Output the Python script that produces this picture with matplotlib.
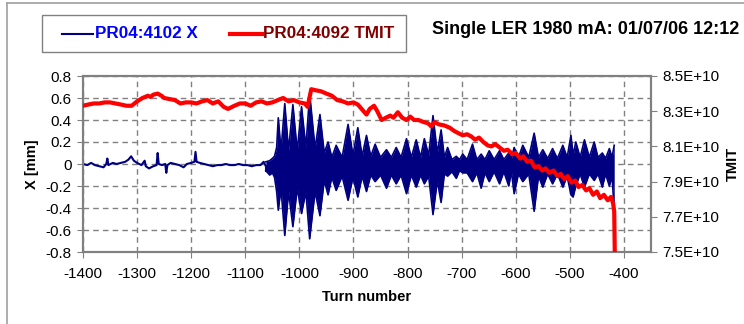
#Beam position and TMIT versus turn number, Excel style chart
import numpy as np
import matplotlib
matplotlib.use("Agg")
import matplotlib.pyplot as plt
from matplotlib.patches import Rectangle
from matplotlib.lines import Line2D
from matplotlib.ticker import MultipleLocator, FuncFormatter

plt.rcParams['font.family'] = ['Liberation Sans', 'DejaVu Sans']
plt.rcParams['axes.unicode_minus'] = False

#Quiet part of the X trace before the kick (turn, mm)
quiet_turn = [-1400, -1392, -1385, -1378, -1370, -1362, -1357, -1355, -1353, -1345,
              -1338, -1330, -1322, -1316, -1311, -1306, -1300, -1292, -1286, -1284,
              -1278, -1270, -1264, -1262, -1260, -1254, -1248, -1246, -1244, -1238,
              -1230, -1222, -1214, -1208, -1200, -1194, -1192, -1190, -1184, -1176,
              -1168, -1160, -1152, -1144, -1136, -1128, -1120, -1112, -1104, -1096,
              -1088, -1080, -1072, -1066, -1062]
quiet_x = [0.00, -0.01, 0.01, -0.01, -0.02, -0.03, 0.00, 0.05, -0.01, 0.01,
           0.00, 0.01, 0.02, 0.04, 0.07, 0.03, 0.01, -0.01, 0.03, -0.02,
           -0.04, -0.02, -0.01, 0.10, 0.00, -0.01, 0.00, -0.08, -0.01, 0.01,
           0.00, -0.01, -0.03, 0.00, 0.01, 0.02, 0.11, 0.02, 0.01, 0.00,
           -0.01, -0.02, -0.01, -0.01, 0.00, -0.01, -0.01, 0.00, -0.01, -0.01,
           -0.02, -0.01, -0.01, 0.02, -0.02]

#Oscillating part: upper and lower envelope of the X trace (turn, mm)
osc_turn = [-1062, -1055, -1050, -1046, -1042, -1039, -1034, -1027, -1020, -1012,
            -1004, -996, -988, -981, -971, -962, -954, -947, -940, -932,
            -921, -910, -901, -892, -884, -876, -868, -860, -850, -839,
            -830, -821, -812, -802, -793, -784, -776, -769, -761, -753,
            -745, -738, -732, -726, -718, -710, -704, -698, -690, -680,
            -672, -664, -657, -649, -640, -630, -622, -613, -608, -603,
            -595, -587, -576, -566, -558, -550, -541, -532, -523, -513,
            -505, -498, -494, -489, -481, -473, -464, -455, -448, -440,
            -434, -427, -422, -418]
osc_hi = [0.02, 0.03, 0.05, 0.07, 0.15, 0.42, 0.12, 0.55, 0.12, 0.54,
          0.12, 0.52, 0.15, 0.64, 0.14, 0.45, 0.10, 0.20, 0.06, 0.17,
          0.06, 0.36, 0.08, 0.33, 0.07, 0.26, 0.07, 0.18, 0.06, 0.13,
          0.06, 0.15, 0.06, 0.23, 0.06, 0.22, 0.06, 0.23, 0.08, 0.44,
          0.10, 0.31, 0.06, 0.15, 0.04, 0.07, 0.04, 0.09, 0.04, 0.18,
          0.04, 0.09, 0.04, 0.12, 0.04, 0.12, 0.04, 0.10, 0.05, 0.15,
          0.06, 0.17, 0.06, 0.28, 0.06, 0.13, 0.05, 0.14, 0.05, 0.17,
          0.06, 0.26, 0.08, 0.20, 0.06, 0.22, 0.06, 0.20, 0.06, 0.10,
          0.05, 0.14, 0.06, 0.17]
osc_lo = [-0.06, -0.10, -0.08, -0.12, -0.25, -0.42, -0.22, -0.65, -0.25, -0.57,
          -0.22, -0.45, -0.25, -0.68, -0.25, -0.47, -0.15, -0.28, -0.12, -0.24,
          -0.11, -0.33, -0.12, -0.30, -0.11, -0.25, -0.10, -0.16, -0.10, -0.22,
          -0.10, -0.18, -0.10, -0.27, -0.10, -0.21, -0.10, -0.18, -0.11, -0.46,
          -0.15, -0.35, -0.09, -0.11, -0.07, -0.13, -0.06, -0.08, -0.08, -0.16,
          -0.08, -0.22, -0.08, -0.16, -0.07, -0.18, -0.07, -0.20, -0.07, -0.27,
          -0.09, -0.16, -0.09, -0.43, -0.11, -0.21, -0.09, -0.18, -0.09, -0.21,
          -0.11, -0.28, -0.30, -0.20, -0.09, -0.21, -0.09, -0.15, -0.09, -0.21,
          -0.09, -0.20, -0.11, -0.42]

#TMIT trace (turn, particles in units of 1E+10)
tmit_turn = [-1400, -1390, -1380, -1370, -1360, -1350, -1340, -1330, -1320, -1310,
             -1300, -1290, -1280, -1275, -1270, -1262, -1255, -1250, -1240, -1230,
             -1220, -1210, -1200, -1190, -1180, -1170, -1160, -1150, -1140, -1132,
             -1120, -1110, -1100, -1090, -1080, -1070, -1060, -1050, -1040, -1030,
             -1020, -1010, -1000, -990, -985, -978, -970, -960, -950, -940,
             -930, -920, -910, -900, -892, -885, -876, -870, -862, -856,
             -848, -840, -832, -826, -818, -810, -802, -795, -788, -780,
             -770, -762, -756, -750, -742, -732, -722, -714, -706, -698,
             -690, -682, -675, -668, -660, -652, -645, -638, -630, -622,
             -615, -606, -600, -592, -586, -579, -572, -565, -558, -551,
             -545, -538, -530, -523, -517, -510, -504, -497, -490, -484,
             -477, -470, -464, -457, -450, -444, -437, -430, -424, -420,
             -418, -417]
tmit_e10 = [8.331, 8.338, 8.344, 8.344, 8.350, 8.350, 8.344, 8.338, 8.331, 8.331,
            8.356, 8.375, 8.388, 8.381, 8.394, 8.400, 8.388, 8.375, 8.369, 8.363,
            8.344, 8.350, 8.350, 8.344, 8.356, 8.363, 8.344, 8.356, 8.325, 8.313,
            8.331, 8.344, 8.344, 8.331, 8.350, 8.356, 8.344, 8.350, 8.363, 8.375,
            8.356, 8.363, 8.350, 8.344, 8.325, 8.425, 8.419, 8.413, 8.400, 8.388,
            8.363, 8.356, 8.344, 8.350, 8.338, 8.313, 8.281, 8.313, 8.331, 8.300,
            8.250, 8.263, 8.275, 8.263, 8.294, 8.263, 8.250, 8.269, 8.250, 8.250,
            8.238, 8.231, 8.213, 8.238, 8.225, 8.219, 8.206, 8.188, 8.175, 8.163,
            8.169, 8.156, 8.138, 8.150, 8.125, 8.106, 8.100, 8.113, 8.094, 8.075,
            8.081, 8.056, 8.063, 8.031, 8.044, 8.013, 8.019, 7.981, 7.988, 7.963,
            7.975, 7.950, 7.963, 7.931, 7.944, 7.913, 7.931, 7.894, 7.906, 7.869,
            7.881, 7.850, 7.863, 7.825, 7.844, 7.806, 7.825, 7.794, 7.813, 7.775,
            7.731, 7.500]

NAVY = "#000080"
RED = "#FF0000"
GRID = "#808080"

fig = plt.figure(figsize=(7.44, 3.24), dpi=100)
W, H = 744.0, 324.0

#frame lines of the chart area
fig.add_artist(Line2D([7 / W, 7 / W], [0, 1 - 3 / H], color="#a0a0a0", lw=1.2))
fig.add_artist(Line2D([7 / W, 1], [1 - 3 / H, 1 - 3 / H], color="#a0a0a0", lw=1.2))

ax = fig.add_axes([83 / W, 1 - 252 / H, (651 - 83) / W, (252 - 76) / H])
ax.set_xlim(-1400, -350)
ax.set_ylim(-0.8, 0.8)
ax.set_xticks(np.arange(-1400, -399, 100))
ax.yaxis.set_major_locator(MultipleLocator(0.2))
ax.yaxis.set_major_formatter(FuncFormatter(lambda v, p: "0" if abs(v) < 1e-9 else f"{v:.1f}"))
ax.grid(True, color=GRID, linestyle=(0, (4, 3)), linewidth=1.0)
ax.set_axisbelow(True)
for s in ax.spines.values():
    s.set_color(GRID)
    s.set_linewidth(1.5)
ax.tick_params(axis="both", direction="out", length=4, color=GRID, labelsize=11,
               labelcolor="black", pad=4)
ax.tick_params(axis="x", pad=7)

#X trace
ax.plot(quiet_turn, quiet_x, color=NAVY, lw=1.5, zorder=3)
ax.fill_between(osc_turn, osc_lo, osc_hi, color=NAVY, lw=0, zorder=3)
ax.plot(osc_turn, osc_hi, color=NAVY, lw=1.2, zorder=3)
ax.plot(osc_turn, osc_lo, color=NAVY, lw=1.2, zorder=3)
ax.plot([quiet_turn[-1], osc_turn[0]], [quiet_x[-1], osc_lo[0]], color=NAVY, lw=1.5, zorder=3)

ax.set_xlabel("Turn number", fontsize=10.5, fontweight="bold", labelpad=6)
ax.set_ylabel("X [mm]", fontsize=10.5, fontweight="bold", labelpad=5)

#TMIT on the right axis
ax2 = ax.twinx()
ax2.set_ylim(7.5e10, 8.5e10)
ax2.set_yticks(np.arange(7.5e10, 8.51e10, 0.2e10))
ax2.yaxis.set_major_formatter(FuncFormatter(lambda v, p: f"{v:.1E}"))
ax2.plot(tmit_turn, np.array(tmit_e10) * 1e10, color=RED, lw=3.0, zorder=4,
         solid_joinstyle="round")
for s in ax2.spines.values():
    s.set_color(GRID)
    s.set_linewidth(1.5)
ax2.tick_params(axis="y", direction="out", length=4, color=GRID, labelsize=11, pad=4)
ax2.set_ylabel("TMIT", fontsize=10.5, fontweight="bold", labelpad=5)

#legend box drawn by hand like the Excel one
fig.add_artist(Rectangle((42 / W, 1 - 52 / H), (406 - 42) / W, 37 / H,
                         fill=False, edgecolor="#808080", lw=1.0))
ly = 1 - 34 / H
fig.add_artist(Line2D([62 / W, 93 / W], [ly, ly], color=NAVY, lw=1.5))
fig.text(95 / W, ly, "PR04:4102 X", color="#0000FF", fontsize=12.3,
         fontweight="bold", va="center")
fig.add_artist(Line2D([230 / W, 262 / W], [ly, ly], color=RED, lw=3.0))
fig.text(263 / W, ly, "PR04:4092 TMIT", color="#800000", fontsize=12.3,
         fontweight="bold", va="center")

fig.text(432 / W, 1 - 30 / H, "Single LER 1980 mA: 01/07/06 12:12", color="black",
         fontsize=13, fontweight="bold", va="center")

fig.savefig("out.png", dpi=100)
